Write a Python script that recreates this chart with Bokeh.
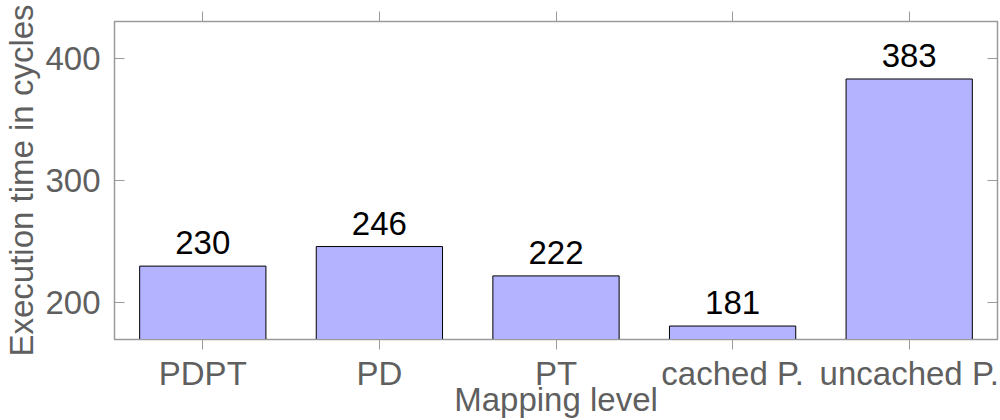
from bokeh.plotting import figure
from bokeh.models import (ColumnDataSource, FactorRange, Range1d, LinearAxis,
                          CategoricalAxis, FixedTicker, LabelSet,
                          CustomLabelingPolicy)
from bokeh.core.properties import value
from bokeh.embed import file_html
from bokeh.resources import INLINE

# Execution time per mapping level
levels = ["PDPT", "PD", "PT", "cached P.", "uncached P."]
cycles = [230, 246, 222, 181, 383]
y_ticks = [200, 300, 400]

FONT = "Liberation Sans"
GREY = "#5f5f5f"
FRAME = "#9a9a9a"

src = ColumnDataSource(dict(level=levels, cycles=cycles,
                            label=[str(v) for v in cycles]))

p = figure(width=1000, height=420, output_backend="svg", toolbar_location=None,
           x_range=FactorRange(*levels, range_padding=0),
           y_range=Range1d(170, 430),
           min_border_left=114, min_border_right=3,
           min_border_top=21, min_border_bottom=81)

p.vbar(x="level", top="cycles", bottom=0, width=0.715, source=src,
       fill_color="#b3b3ff", line_color="black", line_width=1)

labels = LabelSet(x="level", y="cycles", text="label", source=src,
                  text_align="center", text_baseline="alphabetic", y_offset=12,
                  text_font_size="33px", text_color="black",
                  text_font=value(FONT))
p.add_layout(labels)

p.xgrid.visible = False
p.ygrid.visible = False
p.outline_line_color = FRAME
p.outline_line_width = 1.5
p.background_fill_color = "white"
p.border_fill_color = "white"

xa = p.xaxis[0]
xa.axis_label = "Mapping level"
xa.axis_line_color = FRAME
xa.major_tick_line_color = FRAME
xa.major_tick_out = 10
xa.major_tick_in = 0
xa.major_label_standoff = 5
xa.major_label_text_font = FONT
xa.major_label_text_font_size = "33px"
xa.major_label_text_color = GREY
xa.axis_label_text_font = FONT
xa.axis_label_text_font_size = "33px"
xa.axis_label_text_font_style = "normal"
xa.axis_label_text_color = GREY
xa.axis_label_standoff = -14

ya = p.yaxis[0]
ya.axis_label = "Execution time in cycles"
ya.ticker = FixedTicker(ticks=y_ticks)
ya.axis_line_color = FRAME
ya.major_tick_line_color = FRAME
ya.major_tick_out = 0
ya.major_tick_in = 10
ya.minor_tick_line_color = None
ya.major_label_standoff = 14
ya.major_label_text_font = FONT
ya.major_label_text_font_size = "33px"
ya.major_label_text_color = GREY
ya.axis_label_text_font = FONT
ya.axis_label_text_font_size = "33px"
ya.axis_label_text_font_style = "normal"
ya.axis_label_text_color = GREY
ya.axis_label_standoff = 2

# the mirrored axes only carry ticks: their labels are all filtered out
no_labels = """
const out = indices
for (let i = 0; i < indices.size; i++) {
  if (out.unset) { out.unset(i) } else { out.set(i, false) }
}
return out
"""

top = CategoricalAxis(axis_line_color=FRAME, major_tick_line_color=FRAME,
                      major_tick_out=10, major_tick_in=0,
                      major_label_policy=CustomLabelingPolicy(code=no_labels),
                      major_label_text_font_size="0px",
                      major_label_standoff=0)
p.add_layout(top, "above")

right = LinearAxis(ticker=FixedTicker(ticks=y_ticks),
                   axis_line_color=FRAME, major_tick_line_color=FRAME,
                   major_tick_out=0, major_tick_in=10,
                   minor_tick_line_color=None,
                   major_label_policy=CustomLabelingPolicy(code=no_labels),
                   major_label_text_font_size="0px",
                   major_label_standoff=0)
p.add_layout(right, "right")

open("out.html", "w").write(file_html(p, INLINE))
